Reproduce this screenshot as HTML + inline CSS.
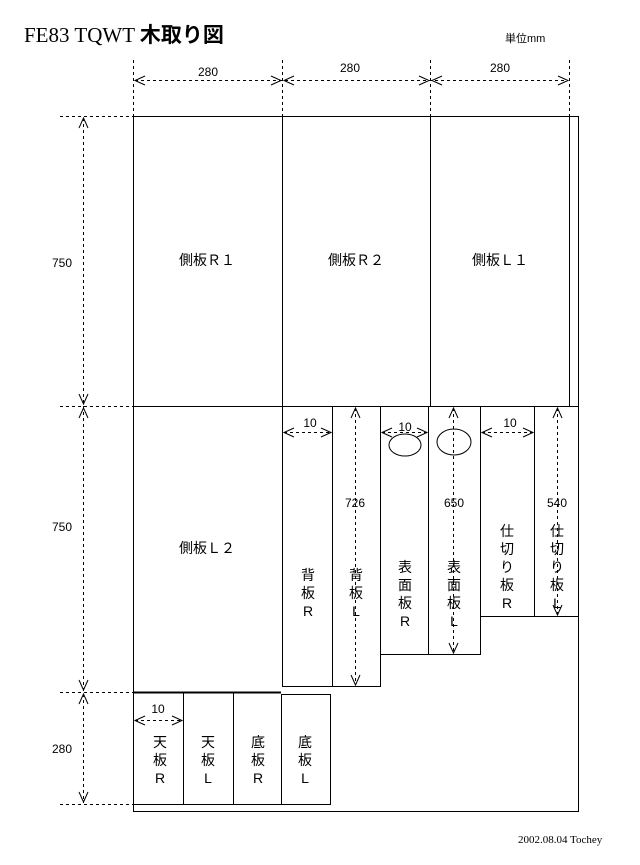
<!DOCTYPE html>
<html><head><meta charset="utf-8"><style>
html,body{margin:0;padding:0;background:#fff;}
svg{display:block;}
text{font-family:"Liberation Sans","Noto Sans CJK JP",sans-serif;font-size:14px;fill:#000;}
.s{font-family:"Liberation Sans",sans-serif;font-size:12px;}
</style></head><body>
<svg width="640" height="865" viewBox="0 0 640 865" xmlns="http://www.w3.org/2000/svg">
<g stroke="#000" fill="none" stroke-width="1">
<!-- top section -->
<rect x="133.5" y="116.5" width="445" height="290"/>
<line x1="282.5" y1="116" x2="282.5" y2="406"/>
<line x1="430.5" y1="116" x2="430.5" y2="406"/>
<line x1="569.5" y1="116" x2="569.5" y2="406"/>
<line x1="578.5" y1="406" x2="578.5" y2="811"/>
<line x1="133.5" y1="406" x2="133.5" y2="811"/>
<line x1="133" y1="811.5" x2="579" y2="811.5"/>
<!-- strips -->
<line x1="282.5" y1="406" x2="282.5" y2="686"/>
<line x1="332.5" y1="406" x2="332.5" y2="686"/>
<line x1="380.5" y1="406" x2="380.5" y2="686"/>
<line x1="282" y1="686.5" x2="381" y2="686.5"/>
<line x1="428.5" y1="406" x2="428.5" y2="654"/>
<line x1="480.5" y1="406" x2="480.5" y2="654"/>
<line x1="380" y1="654.5" x2="481" y2="654.5"/>
<line x1="534.5" y1="406" x2="534.5" y2="616"/>
<line x1="480" y1="616.5" x2="579" y2="616.5"/>
<!-- bottom pieces -->
<line x1="133" y1="692.5" x2="281" y2="692.5" stroke-width="2"/>
<line x1="183.5" y1="692" x2="183.5" y2="804"/>
<line x1="233.5" y1="692" x2="233.5" y2="804"/>
<rect x="281.5" y="694.5" width="49" height="110"/>
<line x1="133" y1="804.5" x2="331" y2="804.5"/>
<ellipse cx="405" cy="445" rx="16" ry="11"/>
<ellipse cx="454" cy="442" rx="17" ry="13"/>
</g>
<g stroke="#000" fill="none" stroke-width="1" stroke-dasharray="3,3">
<!-- top dims -->
<line x1="133.5" y1="60" x2="133.5" y2="116"/>
<line x1="282.5" y1="60" x2="282.5" y2="116"/>
<line x1="430.5" y1="60" x2="430.5" y2="116"/>
<line x1="569.5" y1="60" x2="569.5" y2="116"/>
<line x1="135" y1="80.5" x2="568" y2="80.5"/>
<!-- left dims -->
<line x1="60" y1="116.5" x2="133" y2="116.5"/>
<line x1="60" y1="406.5" x2="133" y2="406.5"/>
<line x1="60" y1="692.5" x2="133" y2="692.5"/>
<line x1="60" y1="804.5" x2="133" y2="804.5"/>
<line x1="83.5" y1="118" x2="83.5" y2="803"/>
<!-- inner dims -->
<line x1="284" y1="432.5" x2="331" y2="432.5"/>
<line x1="382" y1="432.5" x2="427" y2="432.5"/>
<line x1="482" y1="432.5" x2="533" y2="432.5"/>
<line x1="135" y1="720.5" x2="182" y2="720.5"/>
<line x1="355.5" y1="408" x2="355.5" y2="685"/>
<line x1="453.5" y1="408" x2="453.5" y2="653"/>
<line x1="557.5" y1="408" x2="557.5" y2="615"/>
</g>
<g stroke="#000" fill="none" stroke-width="1">
<!-- horizontal arrowheads -->
<path d="M145,76 L135,80.5 L145,85 M271,76 L281,80.5 L271,85 M294,76 L284,80.5 L294,85 M419,76 L429,80.5 L419,85 M442,76 L432,80.5 L442,85 M558,76 L568,80.5 L558,85"/>
<path d="M294,428 L284,432.5 L294,437 M321,428 L331,432.5 L321,437"/>
<path d="M392,428 L382,432.5 L392,437 M417,428 L427,432.5 L417,437"/>
<path d="M492,428 L482,432.5 L492,437 M523,428 L533,432.5 L523,437"/>
<path d="M145,716 L135,720.5 L145,725 M172,716 L182,720.5 L172,725"/>
<!-- vertical arrowheads -->
<path d="M79,128 L83.5,118 L88,128 M79,394 L83.5,404 L88,394 M79,418 L83.5,408 L88,418 M79,680 L83.5,690 L88,680 M79,704 L83.5,694 L88,704 M79,792 L83.5,802 L88,792"/>
<path d="M351,418 L355.5,408 L360,418 M351,675 L355.5,685 L360,675"/>
<path d="M449,418 L453.5,408 L458,418 M449,643 L453.5,653 L458,643"/>
<path d="M553,418 L557.5,408 L562,418 M553,605 L557.5,615 L562,605"/>
</g>
<text x="24" y="42" style="font-family:'Liberation Serif','Noto Serif CJK SC',serif;font-size:21px;">FE83 TQWT <tspan style="font-family:'Noto Sans CJK JP',sans-serif;font-weight:bold;">木取り図</tspan></text>
<text x="505" y="42" style="font-size:11px;">単位mm</text>
<text class="s" x="208" y="76" text-anchor="middle">280</text>
<text class="s" x="350" y="72" text-anchor="middle">280</text>
<text class="s" x="500" y="72" text-anchor="middle">280</text>
<text class="s" x="62" y="267" text-anchor="middle">750</text>
<text class="s" x="62" y="531" text-anchor="middle">750</text>
<text class="s" x="62" y="753" text-anchor="middle">280</text>
<text class="s" x="310" y="427" text-anchor="middle">10</text>
<text class="s" x="405" y="431" text-anchor="middle">10</text>
<text class="s" x="510" y="427" text-anchor="middle">10</text>
<text class="s" x="158" y="713" text-anchor="middle">10</text>
<text class="s" x="355" y="507" text-anchor="middle">726</text>
<text class="s" x="454" y="507" text-anchor="middle">650</text>
<text class="s" x="557" y="507" text-anchor="middle">540</text>
<text x="207" y="265" text-anchor="middle">側板Ｒ１</text>
<text x="356" y="265" text-anchor="middle">側板Ｒ２</text>
<text x="500" y="265" text-anchor="middle">側板Ｌ１</text>
<text x="207" y="553" text-anchor="middle">側板Ｌ２</text>
<g text-anchor="middle">
<text x="308" y="580">背</text><text x="308" y="598">板</text><text x="308" y="616">R</text>
<text x="356" y="580">背</text><text x="356" y="598">板</text><text x="356" y="616">L</text>
<text x="405" y="572">表</text><text x="405" y="590">面</text><text x="405" y="608">板</text><text x="405" y="626">R</text>
<text x="454" y="572">表</text><text x="454" y="590">面</text><text x="454" y="608">板</text><text x="454" y="626">L</text>
<text x="507" y="536">仕</text><text x="507" y="554">切</text><text x="507" y="572">り</text><text x="507" y="590">板</text><text x="507" y="608">R</text>
<text x="557" y="536">仕</text><text x="557" y="554">切</text><text x="557" y="572">り</text><text x="557" y="590">板</text><text x="557" y="608">L</text>
<text x="160" y="747">天</text><text x="160" y="765">板</text><text x="160" y="783">R</text>
<text x="208" y="747">天</text><text x="208" y="765">板</text><text x="208" y="783">L</text>
<text x="258" y="747">底</text><text x="258" y="765">板</text><text x="258" y="783">R</text>
<text x="305" y="747">底</text><text x="305" y="765">板</text><text x="305" y="783">L</text>
</g>
<text x="518" y="843" style="font-family:'Liberation Serif',serif;font-size:11px;">2002.08.04 Tochey</text>
</svg>
</body></html>
